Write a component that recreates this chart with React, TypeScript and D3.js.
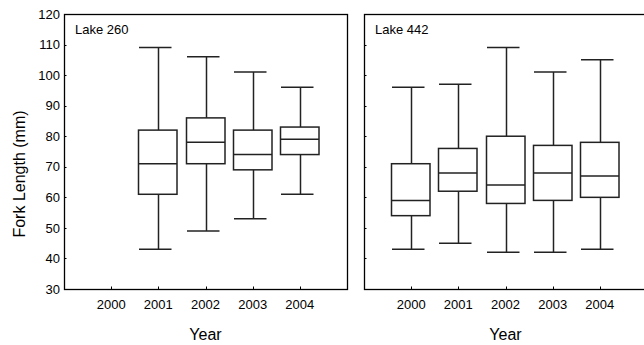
import React from "react";
import * as d3 from "d3";

const years = ["2000", "2001", "2002", "2003", "2004"];
const yTicks = [30, 40, 50, 60, 70, 80, 90, 100, 110, 120];

// [year, min, q1, median, q3, max]
const lake260: [string, number, number, number, number, number][] = [
  ["2001", 43, 61, 71, 82, 109],
  ["2002", 49, 71, 78, 86, 106],
  ["2003", 53, 69, 74, 82, 101],
  ["2004", 61, 74, 79, 83, 96],
];
const lake442: [string, number, number, number, number, number][] = [
  ["2000", 43, 54, 59, 71, 96],
  ["2001", 45, 62, 68, 76, 97],
  ["2002", 42, 58, 64, 80, 109],
  ["2003", 42, 59, 68, 77, 101],
  ["2004", 43, 60, 67, 78, 105],
];

const panels = [
  { name: "Lake 260", data: lake260, x0: 64, showY: true },
  { name: "Lake 442", data: lake442, x0: 364, showY: false },
];

const W = 644, H = 345;
const top = 14, bottom = 289, pw = 283;
const font = "'Liberation Sans', Arial, sans-serif";

export default function App() {
  const y = d3.scaleLinear().domain([30, 120]).range([bottom, top]);
  return (
    <svg width={W} height={H} style={{ position: "absolute", left: 0, top: 0, background: "#fff" }}>
      <rect x={0} y={0} width={W} height={H} fill="#fff" />
      {panels.map((p) => {
        const x = d3.scalePoint<string>().domain(years).range([p.x0, p.x0 + pw]).padding(1);
        return (
          <g key={p.name}>
            <rect x={p.x0 + 0.5} y={top + 0.5} width={pw} height={bottom - top} fill="none" stroke="#000" strokeWidth={1.3} />
            {yTicks.map((t) => (
              <g key={t}>
                <line x1={p.x0} x2={p.x0 + 2.5} y1={Math.round(y(t)) + 0.5} y2={Math.round(y(t)) + 0.5} stroke="#000" strokeWidth={1} />
                {p.showY && (
                  <text x={p.x0 - 4} y={y(t)} dy="0.36em" textAnchor="end" fontFamily={font} fontSize={13} fill="#000">{t}</text>
                )}
              </g>
            ))}
            {years.map((yr) => (
              <g key={yr}>
                <line x1={Math.round(x(yr)!) + 0.5} x2={Math.round(x(yr)!) + 0.5} y1={bottom} y2={bottom - 2.5} stroke="#000" strokeWidth={1} />
                <text x={x(yr)!} y={309} textAnchor="middle" fontFamily={font} fontSize={13} fill="#000">{yr}</text>
              </g>
            ))}
            <text x={p.x0 + 11} y={34} fontFamily={font} fontSize={13} fill="#000">{p.name}</text>
            <text x={p.x0 + pw / 2} y={340} textAnchor="middle" fontFamily={font} fontSize={16} fill="#000">Year</text>
            {p.data.map(([yr, mn, q1, md, q3, mx]) => {
              const cx = Math.round(x(yr)!) + 0.5;
              const stroke = "#222";
              const sw = 1.5;
              return (
                <g key={yr}>
                  <line x1={cx} x2={cx} y1={y(mx)} y2={y(q3)} stroke={stroke} strokeWidth={sw} />
                  <line x1={cx} x2={cx} y1={y(q1)} y2={y(mn)} stroke={stroke} strokeWidth={sw} />
                  <line x1={cx - 19.5} x2={cx + 13} y1={y(mx)} y2={y(mx)} stroke={stroke} strokeWidth={sw} />
                  <line x1={cx - 19.5} x2={cx + 13} y1={y(mn)} y2={y(mn)} stroke={stroke} strokeWidth={sw} />
                  <rect x={cx - 20} y={y(q3)} width={38.5} height={y(q1) - y(q3)} fill="#fff" stroke={stroke} strokeWidth={sw} />
                  <line x1={cx - 20} x2={cx + 18.5} y1={y(md)} y2={y(md)} stroke={stroke} strokeWidth={sw} />
                </g>
              );
            })}
          </g>
        );
      })}
      <text transform={`translate(25,174) rotate(-90)`} textAnchor="middle" fontFamily={font} fontSize={16} fill="#000">Fork Length (mm)</text>
    </svg>
  );
}
